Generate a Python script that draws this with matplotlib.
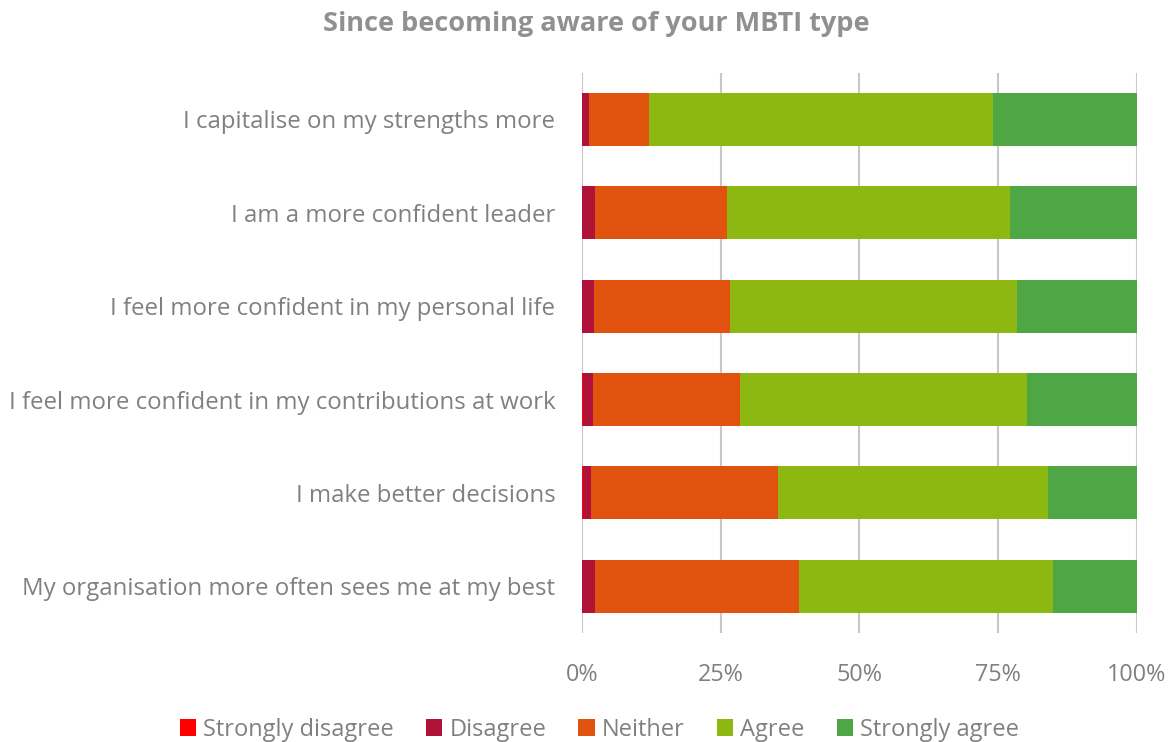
import matplotlib
matplotlib.use("Agg")
import matplotlib.pyplot as plt
import numpy as np

plt.rcParams['font.family'] = ['Open Sans', 'DejaVu Sans']

categories = [
    "I capitalise on my strengths more",
    "I am a more confident leader",
    "I feel more confident in my personal life",
    "I feel more confident in my contributions at work",
    "I make better decisions",
    "My organisation more often sees me at my best",
]
series_names = ["Strongly disagree", "Disagree", "Neither", "Agree", "Strongly agree"]
strongly_disagree = [0.1, 0.1, 0.1, 0.2, 0.2, 0.1]
disagree = [1.2, 2.3, 2.1, 1.9, 1.4, 2.2]
neither = [10.8, 23.7, 24.5, 26.4, 33.7, 36.8]
agree = [62.0, 51.0, 51.7, 51.7, 48.8, 45.9]
strongly_agree = [25.9, 22.9, 21.6, 19.8, 15.9, 15.0]
colors = ["#FF0000", "#B0123A", "#E0520D", "#8DB812", "#4EA645"]
xticks = [0, 25, 50, 75, 100]
xticklabels = ["0%", "25%", "50%", "75%", "100%"]

gray = "#808080"
fig = plt.figure(figsize=(11.73, 7.42), dpi=100)
ax = fig.add_axes([0.496, 0.147, 0.473, 0.755])

data = np.array([strongly_disagree, disagree, neither, agree, strongly_agree])
y = np.arange(len(categories))
left = np.zeros(len(categories))
for vals, name, c in zip(data, series_names, colors):
    ax.barh(y, vals, left=left, height=0.57, color=c, label=name, zorder=3)
    left += vals

ax.set_xlim(0, 100)
ax.set_ylim(len(categories) - 0.5, -0.5)
ax.set_yticks(y)
ax.set_yticklabels(categories, fontsize=17.3, color=gray)
ax.set_xticks(xticks)
ax.set_xticklabels(xticklabels, fontsize=16.8, color=gray)
ax.tick_params(axis='y', length=0, pad=19)
ax.tick_params(axis='x', length=0, pad=22)
ax.grid(axis='x', color="#C8C8C8", linewidth=1.5, zorder=0)
for s in ax.spines.values():
    s.set_visible(False)

fig.suptitle("Since becoming aware of your MBTI type", fontsize=19.5, fontweight='bold',
             color="#909090", x=0.508, y=0.985)

handles, labels = ax.get_legend_handles_labels()
fig.legend(handles, labels, loc='lower center', bbox_to_anchor=(0.511, -0.028), ncol=5,
           frameon=False, fontsize=17, labelcolor=gray, handlelength=0.7, handleheight=0.7,
           handletextpad=0.3, columnspacing=1.35)

fig.savefig("out.png", dpi=100)
